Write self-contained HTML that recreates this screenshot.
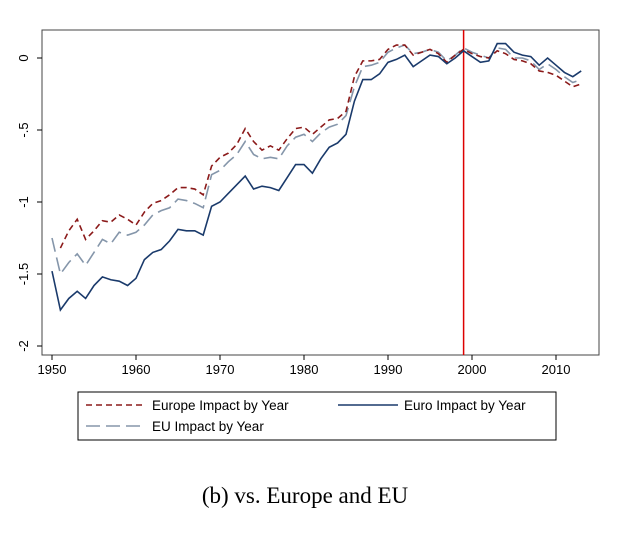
<!DOCTYPE html>
<html><head><meta charset="utf-8"><style>
body{margin:0;background:#fff;width:640px;height:535px;overflow:hidden}
text{font-family:"Liberation Sans",sans-serif}
</style></head><body>
<svg id="chart" width="640" height="535" xmlns="http://www.w3.org/2000/svg">
<rect x="0" y="0" width="640" height="535" fill="#fff"/>
<g id="axes"></g><g id="series"></g>
<g>
<rect x="78" y="392" width="478" height="48" fill="#fff" stroke="#000" stroke-width="1"/>
<line x1="86" y1="405" x2="146" y2="405" stroke="#8b1a1a" stroke-width="1.6" stroke-dasharray="6,4"/>
<text x="152" y="410" font-size="13.5">Europe Impact by Year</text>
<line x1="338" y1="405" x2="398" y2="405" stroke="#1a3a6b" stroke-width="1.6"/>
<text x="404" y="410" font-size="13.5">Euro Impact by Year</text>
<line x1="86" y1="426" x2="146" y2="426" stroke="#8596aa" stroke-width="1.6" stroke-dasharray="14,6"/>
<text x="152" y="431" font-size="13.5">EU Impact by Year</text>
</g>
<text x="305" y="503" font-size="23" text-anchor="middle" style="font-family:'Liberation Serif',serif">(b) vs. Europe and EU</text>
</svg>
<script>
const years=[];for(let y=1950;y<=2013;y++)years.push(y);
const euro=[-1.48,-1.75,-1.67,-1.62,-1.67,-1.58,-1.52,-1.54,-1.55,-1.58,-1.53,-1.40,-1.35,-1.33,-1.27,-1.19,-1.20,-1.20,-1.23,-1.03,-1.00,-0.94,-0.88,-0.82,-0.91,-0.89,-0.90,-0.92,-0.83,-0.74,-0.74,-0.80,-0.70,-0.62,-0.59,-0.53,-0.30,-0.15,-0.15,-0.11,-0.03,-0.01,0.02,-0.06,-0.02,0.02,0.01,-0.04,0.00,0.05,0.01,-0.03,-0.02,0.10,0.10,0.04,0.02,0.01,-0.05,0.00,-0.05,-0.10,-0.13,-0.09];
const europe=[null,-1.32,-1.20,-1.12,-1.26,-1.20,-1.13,-1.14,-1.09,-1.12,-1.16,-1.07,-1.01,-0.99,-0.95,-0.90,-0.90,-0.91,-0.95,-0.75,-0.69,-0.66,-0.60,-0.49,-0.58,-0.64,-0.61,-0.64,-0.56,-0.49,-0.48,-0.53,-0.48,-0.43,-0.42,-0.37,-0.13,-0.02,-0.02,-0.01,0.06,0.09,0.09,0.02,0.04,0.06,0.03,-0.03,0.02,0.06,0.03,0.01,0.00,0.05,0.03,-0.01,-0.02,-0.04,-0.09,-0.10,-0.12,-0.16,-0.20,-0.18];
const eu=[-1.25,-1.50,-1.42,-1.36,-1.44,-1.35,-1.26,-1.29,-1.21,-1.23,-1.21,-1.16,-1.09,-1.06,-1.04,-0.98,-0.99,-1.01,-1.04,-0.81,-0.78,-0.72,-0.67,-0.58,-0.67,-0.70,-0.69,-0.70,-0.61,-0.55,-0.53,-0.58,-0.52,-0.48,-0.46,-0.40,-0.20,-0.06,-0.05,-0.03,0.04,0.07,0.09,0.03,0.04,0.06,0.04,-0.02,0.02,0.07,0.04,0.02,0.00,0.07,0.06,0.00,0.00,-0.02,-0.08,-0.04,-0.08,-0.13,-0.17,-0.15];
const xTicks=[1950,1960,1970,1980,1990,2000,2010];
const yTicks=[0,-0.5,-1,-1.5,-2];
const yTickLabels=["0","-.5","-1","-1.5","-2"];
const refYear=1999;
const L=42,T=30,R=599,B=355;
const X=y=>52+(y-1950)*8.4;
const Y=v=>58-v*144;
const NS="http://www.w3.org/2000/svg";
function mk(tag,attrs,parent){const e=document.createElementNS(NS,tag);for(const k in attrs)e.setAttribute(k,attrs[k]);parent.appendChild(e);return e;}
const ax=document.getElementById('axes');
const frame=mk('rect',{x:L,y:T,width:R-L,height:B-T,fill:'none',stroke:'#444','stroke-width':1},ax);


xTicks.forEach(t=>{
 const l=mk('line',{x1:X(t),x2:X(t),y1:B,y2:B+5,stroke:'#000'},ax);
 
 
 const tx=mk('text',{x:X(t),y:B+19,'font-size':13,'text-anchor':'middle'},ax);tx.textContent=t;
 
 
});
yTicks.forEach((t,i)=>{
 const l=mk('line',{x1:L-5,x2:L,y1:Y(t),y2:Y(t),stroke:'#000'},ax);
 
 
 const tx=mk('text',{x:0,y:0,'font-size':13,'text-anchor':'middle',transform:`translate(${L-14},${Y(t)}) rotate(-90)`},ax);tx.textContent=yTickLabels[i];
 
 
});
const sg=document.getElementById('series');
const ref=mk('line',{x1:X(refYear),x2:X(refYear),y1:T,y2:B,stroke:'#d00','stroke-width':1.5},sg);


function line(vals,color,dash,name){
 const pts=[];vals.forEach((v,i)=>{if(v!==null)pts.push(X(years[i])+','+Y(v));});
 const p=mk('polyline',{points:pts.join(' '),fill:'none',stroke:color,'stroke-width':1.6,'stroke-dasharray':dash},sg);
 
 
}
line(eu,'#8596aa','14,6','eu-series');
line(europe,'#8b1a1a','6,4','europe-series');
line(euro,'#1a3a6b','none','euro-series');
</script>
</body></html>
